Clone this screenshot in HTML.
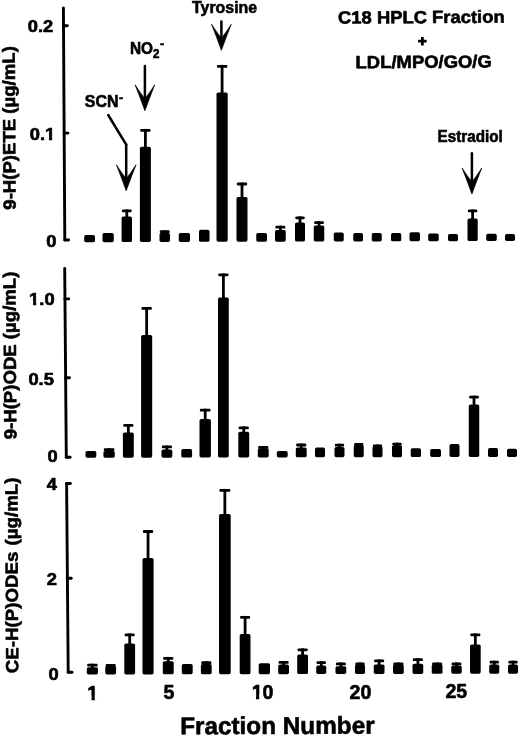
<!DOCTYPE html>
<html><head><meta charset="utf-8"><title>C18 HPLC Fraction</title>
<style>
html,body{margin:0;padding:0;background:#fff;}
svg{display:block;}
text{font-family:"Liberation Sans",Arial,Helvetica,sans-serif;font-weight:bold;fill:#000;}
</style></head>
<body>
<svg width="520" height="737" viewBox="0 0 520 737">
<rect x="0" y="0" width="520" height="737" fill="#fff"/>
<defs><filter id="soft" x="0" y="0" width="520" height="737" filterUnits="userSpaceOnUse"><feGaussianBlur stdDeviation="0.38"/></filter></defs>
<g fill="#000" filter="url(#soft)">
<rect x="84.20" y="235.00" width="10.80" height="7.18" rx="1.7"/>
<rect x="102.50" y="233.00" width="11.25" height="9.13" rx="1.7"/>
<rect x="121.60" y="216.40" width="10.40" height="25.68" rx="1.7"/>
<rect x="122.00" y="209.40" width="9.60" height="2.8" rx="0.9"/>
<rect x="125.40" y="209.40" width="2.8" height="8.00"/>
<rect x="139.90" y="146.70" width="11.00" height="95.33" rx="1.7"/>
<rect x="140.30" y="128.90" width="10.20" height="2.8" rx="0.9"/>
<rect x="144.00" y="128.90" width="2.8" height="18.80"/>
<rect x="159.50" y="233.00" width="10.50" height="8.98" rx="1.7"/>
<rect x="159.90" y="230.30" width="9.70" height="2.8" rx="0.9"/>
<rect x="163.35" y="230.30" width="2.8" height="3.70"/>
<rect x="178.75" y="233.00" width="11.25" height="8.92" rx="1.7"/>
<rect x="199.00" y="229.70" width="10.50" height="12.17" rx="1.7"/>
<rect x="216.50" y="92.60" width="11.20" height="149.22" rx="1.7"/>
<rect x="216.90" y="64.90" width="10.40" height="2.8" rx="0.9"/>
<rect x="220.70" y="64.90" width="2.8" height="28.70"/>
<rect x="236.50" y="196.90" width="11.00" height="44.86" rx="1.7"/>
<rect x="236.90" y="182.60" width="10.20" height="2.8" rx="0.9"/>
<rect x="240.60" y="182.60" width="2.8" height="15.30"/>
<rect x="256.25" y="233.00" width="10.75" height="8.71" rx="1.7"/>
<rect x="275.00" y="230.00" width="10.75" height="11.65" rx="1.7"/>
<rect x="275.40" y="225.75" width="9.95" height="2.8" rx="0.9"/>
<rect x="278.98" y="225.75" width="2.8" height="5.25"/>
<rect x="295.00" y="222.40" width="10.00" height="19.20" rx="1.7"/>
<rect x="295.40" y="216.40" width="9.20" height="2.8" rx="0.9"/>
<rect x="298.60" y="216.40" width="2.8" height="7.00"/>
<rect x="313.75" y="225.40" width="10.50" height="16.15" rx="1.7"/>
<rect x="314.15" y="221.15" width="9.70" height="2.8" rx="0.9"/>
<rect x="317.60" y="221.15" width="2.8" height="5.25"/>
<rect x="333.75" y="232.50" width="10.00" height="8.99" rx="1.7"/>
<rect x="353.25" y="233.00" width="9.75" height="8.44" rx="1.7"/>
<rect x="371.75" y="233.00" width="10.00" height="8.38" rx="1.7"/>
<rect x="391.00" y="233.00" width="10.25" height="8.33" rx="1.7"/>
<rect x="409.50" y="232.30" width="10.50" height="8.98" rx="1.7"/>
<rect x="428.20" y="233.50" width="10.55" height="7.73" rx="1.7"/>
<rect x="448.00" y="234.00" width="10.00" height="7.17" rx="1.7"/>
<rect x="467.50" y="218.40" width="10.20" height="22.72" rx="1.7"/>
<rect x="467.90" y="209.50" width="9.40" height="2.8" rx="0.9"/>
<rect x="471.20" y="209.50" width="2.8" height="9.90"/>
<rect x="486.25" y="233.75" width="10.50" height="7.32" rx="1.7"/>
<rect x="505.00" y="234.00" width="10.00" height="7.01" rx="1.7"/>
<rect x="85.50" y="451.00" width="10.80" height="6.79" rx="1.7"/>
<rect x="103.40" y="451.00" width="11.40" height="6.75" rx="1.7"/>
<rect x="103.80" y="448.20" width="10.60" height="2.8" rx="0.9"/>
<rect x="107.70" y="448.20" width="2.8" height="3.80"/>
<rect x="122.90" y="432.60" width="10.90" height="25.11" rx="1.7"/>
<rect x="123.30" y="424.00" width="10.10" height="2.8" rx="0.9"/>
<rect x="126.95" y="424.00" width="2.8" height="9.60"/>
<rect x="141.10" y="335.00" width="11.10" height="122.67" rx="1.7"/>
<rect x="141.50" y="307.00" width="10.30" height="2.8" rx="0.9"/>
<rect x="145.25" y="307.00" width="2.8" height="29.00"/>
<rect x="161.50" y="449.50" width="10.80" height="8.13" rx="1.7"/>
<rect x="161.90" y="445.50" width="10.00" height="2.8" rx="0.9"/>
<rect x="165.50" y="445.50" width="2.8" height="5.00"/>
<rect x="181.30" y="449.00" width="10.80" height="8.59" rx="1.7"/>
<rect x="199.50" y="419.10" width="11.40" height="38.45" rx="1.7"/>
<rect x="199.90" y="408.80" width="10.60" height="2.8" rx="0.9"/>
<rect x="203.80" y="408.80" width="2.8" height="11.30"/>
<rect x="218.00" y="297.50" width="10.80" height="160.01" rx="1.7"/>
<rect x="218.40" y="273.40" width="10.00" height="2.8" rx="0.9"/>
<rect x="222.00" y="273.40" width="2.8" height="25.10"/>
<rect x="238.30" y="431.80" width="10.90" height="25.67" rx="1.7"/>
<rect x="238.70" y="426.40" width="10.10" height="2.8" rx="0.9"/>
<rect x="242.35" y="426.40" width="2.8" height="6.40"/>
<rect x="257.80" y="448.20" width="10.90" height="9.23" rx="1.7"/>
<rect x="258.20" y="446.00" width="10.10" height="2.8" rx="0.9"/>
<rect x="261.85" y="446.00" width="2.8" height="3.20"/>
<rect x="276.80" y="451.00" width="10.90" height="6.39" rx="1.7"/>
<rect x="295.80" y="447.40" width="10.90" height="9.95" rx="1.7"/>
<rect x="296.20" y="443.60" width="10.10" height="2.8" rx="0.9"/>
<rect x="299.85" y="443.60" width="2.8" height="4.80"/>
<rect x="315.00" y="447.50" width="10.00" height="9.81" rx="1.7"/>
<rect x="334.50" y="447.00" width="10.00" height="10.27" rx="1.7"/>
<rect x="334.90" y="443.75" width="9.20" height="2.8" rx="0.9"/>
<rect x="338.10" y="443.75" width="2.8" height="4.25"/>
<rect x="353.75" y="445.00" width="10.00" height="12.23" rx="1.7"/>
<rect x="354.15" y="443.00" width="9.20" height="2.8" rx="0.9"/>
<rect x="357.35" y="443.00" width="2.8" height="3.00"/>
<rect x="372.50" y="446.25" width="10.00" height="10.94" rx="1.7"/>
<rect x="372.90" y="444.50" width="9.20" height="2.8" rx="0.9"/>
<rect x="376.10" y="444.50" width="2.8" height="2.75"/>
<rect x="392.00" y="445.30" width="10.00" height="11.85" rx="1.7"/>
<rect x="392.40" y="442.70" width="9.20" height="2.8" rx="0.9"/>
<rect x="395.60" y="442.70" width="2.8" height="3.60"/>
<rect x="410.75" y="448.20" width="10.25" height="8.91" rx="1.7"/>
<rect x="430.20" y="449.00" width="10.80" height="8.07" rx="1.7"/>
<rect x="449.50" y="444.00" width="10.00" height="13.03" rx="1.7"/>
<rect x="468.75" y="404.40" width="10.50" height="52.59" rx="1.7"/>
<rect x="469.15" y="395.65" width="9.70" height="2.8" rx="0.9"/>
<rect x="472.60" y="395.65" width="2.8" height="9.75"/>
<rect x="488.00" y="448.00" width="10.00" height="8.95" rx="1.7"/>
<rect x="507.00" y="448.75" width="10.00" height="8.16" rx="1.7"/>
<rect x="86.80" y="667.20" width="11.20" height="7.28" rx="1.7"/>
<rect x="87.20" y="663.70" width="10.40" height="2.8" rx="0.9"/>
<rect x="91.00" y="663.70" width="2.8" height="4.50"/>
<rect x="105.30" y="665.90" width="10.80" height="8.55" rx="1.7"/>
<rect x="105.70" y="664.00" width="10.00" height="2.8" rx="0.9"/>
<rect x="109.30" y="664.00" width="2.8" height="2.90"/>
<rect x="124.30" y="643.60" width="10.80" height="30.82" rx="1.7"/>
<rect x="124.70" y="633.50" width="10.00" height="2.8" rx="0.9"/>
<rect x="128.30" y="633.50" width="2.8" height="11.10"/>
<rect x="142.50" y="558.10" width="11.10" height="116.28" rx="1.7"/>
<rect x="142.90" y="530.10" width="10.30" height="2.8" rx="0.9"/>
<rect x="146.65" y="530.10" width="2.8" height="29.00"/>
<rect x="162.80" y="661.30" width="10.90" height="13.04" rx="1.7"/>
<rect x="163.20" y="656.90" width="10.10" height="2.8" rx="0.9"/>
<rect x="166.85" y="656.90" width="2.8" height="5.40"/>
<rect x="181.80" y="664.00" width="10.90" height="10.31" rx="1.7"/>
<rect x="200.90" y="664.00" width="10.80" height="10.27" rx="1.7"/>
<rect x="201.30" y="661.30" width="10.00" height="2.8" rx="0.9"/>
<rect x="204.90" y="661.30" width="2.8" height="3.70"/>
<rect x="219.00" y="514.10" width="11.70" height="160.14" rx="1.7"/>
<rect x="219.40" y="488.90" width="10.90" height="2.8" rx="0.9"/>
<rect x="223.45" y="488.90" width="2.8" height="26.20"/>
<rect x="239.70" y="634.10" width="10.80" height="40.10" rx="1.7"/>
<rect x="240.10" y="615.90" width="10.00" height="2.8" rx="0.9"/>
<rect x="243.70" y="615.90" width="2.8" height="19.20"/>
<rect x="258.70" y="663.20" width="11.30" height="10.97" rx="1.7"/>
<rect x="278.20" y="664.50" width="10.80" height="9.63" rx="1.7"/>
<rect x="278.60" y="661.00" width="10.00" height="2.8" rx="0.9"/>
<rect x="282.20" y="661.00" width="2.8" height="4.50"/>
<rect x="297.20" y="654.40" width="10.80" height="19.69" rx="1.7"/>
<rect x="297.60" y="648.40" width="10.00" height="2.8" rx="0.9"/>
<rect x="301.20" y="648.40" width="2.8" height="7.00"/>
<rect x="316.25" y="665.50" width="10.00" height="8.56" rx="1.7"/>
<rect x="316.65" y="661.25" width="9.20" height="2.8" rx="0.9"/>
<rect x="319.85" y="661.25" width="2.8" height="5.25"/>
<rect x="335.50" y="666.25" width="10.75" height="7.77" rx="1.7"/>
<rect x="335.90" y="662.50" width="9.95" height="2.8" rx="0.9"/>
<rect x="339.48" y="662.50" width="2.8" height="4.75"/>
<rect x="355.00" y="664.50" width="10.00" height="9.49" rx="1.7"/>
<rect x="355.40" y="662.50" width="9.20" height="2.8" rx="0.9"/>
<rect x="358.60" y="662.50" width="2.8" height="3.00"/>
<rect x="373.75" y="664.50" width="10.75" height="9.45" rx="1.7"/>
<rect x="374.15" y="659.50" width="9.95" height="2.8" rx="0.9"/>
<rect x="377.73" y="659.50" width="2.8" height="6.00"/>
<rect x="393.00" y="664.50" width="10.75" height="9.42" rx="1.7"/>
<rect x="393.40" y="662.50" width="9.95" height="2.8" rx="0.9"/>
<rect x="396.98" y="662.50" width="2.8" height="3.00"/>
<rect x="412.50" y="663.75" width="10.75" height="10.13" rx="1.7"/>
<rect x="412.90" y="658.25" width="9.95" height="2.8" rx="0.9"/>
<rect x="416.48" y="658.25" width="2.8" height="6.50"/>
<rect x="431.75" y="664.50" width="10.75" height="9.34" rx="1.7"/>
<rect x="432.15" y="662.50" width="9.95" height="2.8" rx="0.9"/>
<rect x="435.73" y="662.50" width="2.8" height="3.00"/>
<rect x="451.25" y="665.50" width="10.50" height="8.31" rx="1.7"/>
<rect x="451.65" y="662.50" width="9.70" height="2.8" rx="0.9"/>
<rect x="455.10" y="662.50" width="2.8" height="4.00"/>
<rect x="470.00" y="644.60" width="10.70" height="29.17" rx="1.7"/>
<rect x="470.40" y="633.40" width="9.90" height="2.8" rx="0.9"/>
<rect x="473.95" y="633.40" width="2.8" height="12.20"/>
<rect x="489.25" y="664.50" width="10.00" height="9.24" rx="1.7"/>
<rect x="489.65" y="660.75" width="9.20" height="2.8" rx="0.9"/>
<rect x="492.85" y="660.75" width="2.8" height="4.75"/>
<rect x="508.00" y="664.50" width="10.00" height="9.20" rx="1.7"/>
<rect x="508.40" y="660.75" width="9.20" height="2.8" rx="0.9"/>
<rect x="511.60" y="660.75" width="2.8" height="4.75"/>
<line x1="63.4" y1="8" x2="64.8" y2="240" stroke="#000" stroke-width="2.9" stroke-linecap="round"/>
<line x1="63.507413793103446" y1="25.8" x2="67.30741379310345" y2="25.8" stroke="#000" stroke-width="2.9" stroke-linecap="round"/>
<line x1="64.15491379310345" y1="133.1" x2="67.95491379310344" y2="133.1" stroke="#000" stroke-width="2.9" stroke-linecap="round"/>
<line x1="64.8" y1="240" x2="68.6" y2="240" stroke="#000" stroke-width="2.9" stroke-linecap="round"/>
<line x1="64.7" y1="268.5" x2="66.3" y2="457.2" stroke="#000" stroke-width="2.9" stroke-linecap="round"/>
<line x1="64.95872340425532" y1="298.9" x2="68.75872340425532" y2="298.9" stroke="#000" stroke-width="2.9" stroke-linecap="round"/>
<line x1="65.63021276595745" y1="377.8" x2="69.43021276595745" y2="377.8" stroke="#000" stroke-width="2.9" stroke-linecap="round"/>
<line x1="66.3059574468085" y1="457.2" x2="70.1059574468085" y2="457.2" stroke="#000" stroke-width="2.9" stroke-linecap="round"/>
<line x1="66.6" y1="483.5" x2="68.2" y2="672.3" stroke="#000" stroke-width="2.9" stroke-linecap="round"/>
<line x1="66.6" y1="483.5" x2="70.39999999999999" y2="483.5" stroke="#000" stroke-width="2.9" stroke-linecap="round"/>
<line x1="67.40253968253968" y1="578.3" x2="71.20253968253968" y2="578.3" stroke="#000" stroke-width="2.9" stroke-linecap="round"/>
<line x1="68.19830687830688" y1="672.3" x2="71.99830687830688" y2="672.3" stroke="#000" stroke-width="2.9" stroke-linecap="round"/>
<g transform="translate(53.3,31.7) rotate(0) scale(1.16,1)"><text font-size="15.8" text-anchor="end" stroke="#000" stroke-width="0.6" stroke-linejoin="round" >0.2</text></g>
<g transform="translate(55.2,139.8) rotate(0) scale(1.16,1)"><text font-size="15.8" text-anchor="end" stroke="#000" stroke-width="0.6" stroke-linejoin="round" >0.1</text><rect x="-8.69" y="-3.71" width="3.29" height="5.01" fill="#fff"/><rect x="-2.63" y="-3.71" width="3.09" height="5.01" fill="#fff"/></g>
<g transform="translate(56.5,247.1) rotate(0) scale(1.16,1)"><text font-size="15.8" text-anchor="end" stroke="#000" stroke-width="0.6" stroke-linejoin="round" >0</text></g>
<g transform="translate(54.6,305.2) rotate(0) scale(1.16,1)"><text font-size="15.8" text-anchor="end" stroke="#000" stroke-width="0.6" stroke-linejoin="round" >1.0</text><rect x="-21.87" y="-3.71" width="3.29" height="5.01" fill="#fff"/><rect x="-15.81" y="-3.71" width="3.09" height="5.01" fill="#fff"/></g>
<g transform="translate(53.9,384.8) rotate(0) scale(1.16,1)"><text font-size="15.8" text-anchor="end" stroke="#000" stroke-width="0.6" stroke-linejoin="round" >0.5</text></g>
<g transform="translate(57.6,462.3) rotate(0) scale(1.16,1)"><text font-size="15.8" text-anchor="end" stroke="#000" stroke-width="0.6" stroke-linejoin="round" >0</text></g>
<g transform="translate(57.0,490.0) rotate(0) scale(1.16,1)"><text font-size="15.8" text-anchor="end" stroke="#000" stroke-width="0.6" stroke-linejoin="round" >4</text></g>
<g transform="translate(57.0,585.3) rotate(0) scale(1.16,1)"><text font-size="15.8" text-anchor="end" stroke="#000" stroke-width="0.6" stroke-linejoin="round" >2</text></g>
<g transform="translate(58.8,679.9) rotate(0) scale(1.16,1)"><text font-size="15.8" text-anchor="end" stroke="#000" stroke-width="0.6" stroke-linejoin="round" >0</text></g>
<g transform="translate(15.7,209.7) rotate(-90.35) scale(1.057,1)"><text font-size="17.6" text-anchor="start" stroke="#000" stroke-width="0.6" stroke-linejoin="round" >9-H(P)ETE (µg/mL)</text></g>
<g transform="translate(16.4,439.3) rotate(-90.35) scale(1.057,1)"><text font-size="17.6" text-anchor="start" stroke="#000" stroke-width="0.6" stroke-linejoin="round" >9-H(P)ODE (µg/mL)</text></g>
<g transform="translate(18.2,673.2) rotate(-90.25) scale(1.063,1)"><text font-size="17.6" text-anchor="start" stroke="#000" stroke-width="0.6" stroke-linejoin="round" >CE-H(P)ODEs<tspan dx="0.95"> </tspan>(µg/mL)</text></g>
<g transform="translate(92.7,699.5) rotate(0) scale(0.985,1)"><text font-size="19.9" text-anchor="middle" stroke="#000" stroke-width="0.6" stroke-linejoin="round" >1</text><rect x="-5.18" y="-4.13" width="3.99" height="5.43" fill="#fff"/><rect x="2.14" y="-4.13" width="3.74" height="5.43" fill="#fff"/></g>
<g transform="translate(169,699.3) rotate(0) scale(0.985,1)"><text font-size="19.9" text-anchor="middle" stroke="#000" stroke-width="0.6" stroke-linejoin="round" >5</text></g>
<g transform="translate(262.6,698.8) rotate(0) scale(0.985,1)"><text font-size="19.9" text-anchor="middle" stroke="#000" stroke-width="0.6" stroke-linejoin="round" >10</text><rect x="-10.71" y="-4.13" width="3.99" height="5.43" fill="#fff"/><rect x="-3.39" y="-4.13" width="3.74" height="5.43" fill="#fff"/></g>
<g transform="translate(360.5,698.6) rotate(0) scale(0.985,1)"><text font-size="19.9" text-anchor="middle" stroke="#000" stroke-width="0.6" stroke-linejoin="round" >20</text></g>
<g transform="translate(456.3,698.2) rotate(0) scale(0.985,1)"><text font-size="19.9" text-anchor="middle" stroke="#000" stroke-width="0.6" stroke-linejoin="round" >25</text></g>
<g transform="translate(180.2,734.3) rotate(-0.2) scale(1.0,1)"><text font-size="24.3" text-anchor="start" stroke="#000" stroke-width="0.6" stroke-linejoin="round" >Fraction Number</text></g>
<g transform="translate(338.0,23.6) rotate(-0.3) scale(1.047,1)"><text font-size="17.6" text-anchor="start" stroke="#000" stroke-width="0.6" stroke-linejoin="round" >C18 HPLC Fraction</text></g>
<g transform="translate(422.4,45.7) rotate(0) scale(1.0,1)"><text font-size="15" text-anchor="middle" stroke="#000" stroke-width="1.1" stroke-linejoin="round" >+</text></g>
<g transform="translate(355.6,68.2) rotate(-0.3) scale(1.048,1)"><text font-size="17.6" text-anchor="start" stroke="#000" stroke-width="0.6" stroke-linejoin="round" >LDL/MPO/GO/G</text></g>
<g transform="translate(192.0,13.0) rotate(0) scale(0.965,1)"><text font-size="16.5" text-anchor="start" stroke="#000" stroke-width="0.6" stroke-linejoin="round" >Tyrosine</text></g>
<g transform="translate(437.6,142.3) rotate(0) scale(0.935,1)"><text font-size="16.3" text-anchor="start" stroke="#000" stroke-width="0.6" stroke-linejoin="round" >Estradiol</text></g>
<g transform="translate(130.0,54.0) rotate(0) scale(0.96,1)"><text font-size="16" text-anchor="start" stroke="#000" stroke-width="0.6" stroke-linejoin="round" >NO<tspan font-size="12" dy="3.8">2</tspan><tspan font-size="13" dy="-9.6" dx="0.5">-</tspan></text></g>
<g transform="translate(84.8,107.0) rotate(0) scale(0.98,1)"><text font-size="16.3" text-anchor="start" stroke="#000" stroke-width="0.6" stroke-linejoin="round" >SCN<tspan font-size="13" dy="-4.6" dx="0.4">-</tspan></text></g>
<path d="M211.6,24.299999999999997 Q216.1,35.8 221.4,50.3 Q226.70000000000002,35.8 231.20000000000002,24.299999999999997 Q225.0,34.0 221.4,38.0 Q217.8,34.0 211.6,24.299999999999997 Z" stroke="#000" stroke-width="0.7" stroke-linejoin="round"/>
<line x1="221.4" y1="21.5" x2="221.4" y2="39.0" stroke="#000" stroke-width="2.5" stroke-linecap="round"/>
<path d="M135.1,84.8 Q139.6,96.3 144.9,110.8 Q150.20000000000002,96.3 154.70000000000002,84.8 Q148.5,94.5 144.9,98.5 Q141.3,94.5 135.1,84.8 Z" stroke="#000" stroke-width="0.7" stroke-linejoin="round"/>
<line x1="144.9" y1="66" x2="144.9" y2="99.5" stroke="#000" stroke-width="2.5" stroke-linecap="round"/>
<path d="M462.09999999999997,168 Q466.59999999999997,179.5 471.9,194 Q477.2,179.5 481.7,168 Q475.5,177.7 471.9,181.7 Q468.29999999999995,177.7 462.09999999999997,168 Z" stroke="#000" stroke-width="0.7" stroke-linejoin="round"/>
<line x1="471.9" y1="153.3" x2="471.9" y2="182.7" stroke="#000" stroke-width="2.5" stroke-linecap="round"/>
<path d="M116.4,164.8 Q120.9,176.3 126.2,190.8 Q131.5,176.3 136.0,164.8 Q129.8,174.5 126.2,178.5 Q122.60000000000001,174.5 116.4,164.8 Z" stroke="#000" stroke-width="0.7" stroke-linejoin="round"/>
<line x1="126.2" y1="144.4" x2="126.2" y2="179.5" stroke="#000" stroke-width="2.5" stroke-linecap="round"/>
<line x1="108.2" y1="115" x2="126.2" y2="144.6" stroke="#000" stroke-width="2.5" stroke-linecap="round"/>
</g>
</svg>
</body></html>
